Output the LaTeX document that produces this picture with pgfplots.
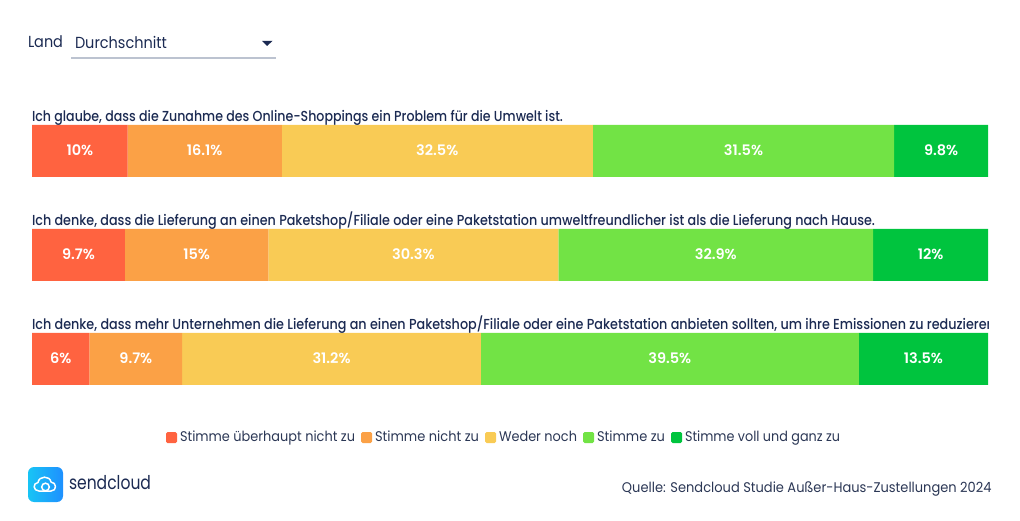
\documentclass[border=0pt]{standalone}
\usepackage{pgfplots}
\usepackage{graphicx}
\usepackage{fontspec}
\pgfplotsset{compat=1.18}
\setmainfont{Poppins}
\newfontfamily\medf{Poppins Medium}
\newfontfamily\semf{Poppins SemiBold}
\definecolor{cA}{HTML}{FF6340}
\definecolor{cB}{HTML}{FBA146}
\definecolor{cC}{HTML}{F9CB55}
\definecolor{cD}{HTML}{72E345}
\definecolor{cE}{HTML}{00C43E}
\definecolor{ink}{HTML}{1B2A52}
\definecolor{ink2}{HTML}{2B3755}
\definecolor{rule}{HTML}{BCC3D0}
\definecolor{logoA}{HTML}{18C4F5}
\definecolor{logoB}{HTML}{1E90FF}
\newcommand{\fit}[2]{\resizebox{#1pt}{\height}{#2}}
\pgfplotsset{
  lg/.style={fill=#1,draw=none,legend image code/.code={\fill[#1,rounded corners=1.5pt] (0pt,-6pt) rectangle (11pt,5pt);}},
  base/.style={
    at={(32pt,0pt)},anchor=south west,scale only axis,width=956pt,height=520pt,
    xmin=0,xmax=99.9,ymin=0,ymax=520,hide axis,clip=false},
  lab/.style={draw=none,mark=none,point meta=explicit symbolic,nodes near coords,
    every node near coord/.style={anchor=center,inner sep=0pt,text=white,font=\semf\fontsize{14.5}{16}\selectfont}}
}
\begin{document}
\begin{tikzpicture}[x=1pt,y=1pt]
\useasboundingbox (0,0) rectangle (1020,520);
\begin{axis}[base,xbar stacked,bar width=52pt,
  legend columns=-1,
  legend style={at={(134/956,83/520)},anchor=west,draw=none,fill=none,inner sep=0pt,outer sep=0pt,
    nodes={inner sep=0pt,outer sep=0pt,text=ink2},
    /tikz/every odd column/.style={column sep=3pt},
    /tikz/every even column/.style={column sep=6pt}}]
\addplot[lg=cA] coordinates {(10,369) (9.7,265) (6,161)};
\addplot[lg=cB] coordinates {(16.1,369) (15,265) (9.7,161)};
\addplot[lg=cC] coordinates {(32.5,369) (30.3,265) (31.2,161)};
\addplot[lg=cD] coordinates {(31.5,369) (32.9,265) (39.5,161)};
\addplot[lg=cE] coordinates {(9.8,369) (12,265) (13.5,161)};
\addlegendentry{\fontsize{14}{15}\selectfont\fit{175}{Stimme überhaupt nicht zu}}
\addlegendentry{\fontsize{14}{15}\selectfont\fit{104}{Stimme nicht zu}}
\addlegendentry{\fontsize{14}{15}\selectfont\fit{78}{Weder noch}}
\addlegendentry{\fontsize{14}{15}\selectfont\fit{68}{Stimme zu}}
\addlegendentry{\fontsize{14}{15}\selectfont\fit{155}{Stimme voll und ganz zu}}
\end{axis}
\begin{axis}[base]
\addplot[lab] coordinates {
  (5,369.8)[10\%] (18.05,369.8)[16.1\%] (42.35,369.8)[32.5\%] (74.35,369.8)[31.5\%] (95,369.8)[9.8\%]
 };
\addplot[lab] coordinates {
  (4.85,265.8)[9.7\%] (17.2,265.8)[15\%] (39.85,265.8)[30.3\%] (71.45,265.8)[32.9\%] (93.9,265.8)[12\%]
 };
\addplot[lab] coordinates {
  (3,161.8)[6\%] (10.85,161.8)[9.7\%] (31.3,161.8)[31.2\%] (66.65,161.8)[39.5\%] (93.15,161.8)[13.5\%]
 };
\end{axis}
\begin{scope}[x=1pt,y=-1pt,yshift=520pt,every node/.style={inner sep=0pt,outer sep=0pt}]
 % titles
 \node[anchor=base west,text=ink,font=\medf\fontsize{14.5}{16}\selectfont] at (32,121.5) {\fit{531}{Ich glaube, dass die Zunahme des Online-Shoppings ein Problem für die Umwelt ist.}};
 \node[anchor=base west,text=ink,font=\medf\fontsize{14.5}{16}\selectfont] at (32,225.5) {\fit{843}{Ich denke, dass die Lieferung an einen Paketshop/Filiale oder eine Paketstation umweltfreundlicher ist als die Lieferung nach Hause.}};
 \begin{scope}
 \clip (32,310) rectangle (988,333);
 \node[anchor=base west,text=ink,font=\medf\fontsize{14.5}{16}\selectfont] at (32,329.5) {\fit{966}{Ich denke, dass mehr Unternehmen die Lieferung an einen Paketshop/Filiale oder eine Paketstation anbieten sollten, um ihre Emissionen zu reduzieren.}};
 \end{scope}
 % selector
 \node[anchor=base west,text=ink,font=\fontsize{16}{18}\selectfont] at (28,47.5) {\fit{35}{Land}};
 \node[anchor=base west,text=ink,font=\fontsize{16}{18}\selectfont] at (75,48.5) {\fit{92}{Durchschnitt}};
 \draw[rule,line width=1.3pt] (71,58) -- (275.5,58);
 \fill[ink] (262,40.8) -- (272.5,40.8) -- (267.2,46) -- cycle;
 % source
 \node[anchor=base east,text=ink2,font=\fontsize{14}{16}\selectfont] at (991.5,492) {\fit{369.5}{Quelle: Sendcloud Studie Außer-Haus-Zustellungen 2024}};
 % logo
 \shade[rounded corners=6pt,left color=logoA,right color=logoB] (28,467) rectangle (63,502);
 \draw[white,line width=1.5pt,line join=round]
   (39,491) .. controls (33,491) and (32.5,483) .. (38,482.5)
   .. controls (39,475.5) and (50,475.5) .. (51,482)
   .. controls (57,482.5) and (57,491) .. (51,491) -- cycle;
 \draw[white,line width=1.5pt] (45.5,487) circle (3.8);
 \node[anchor=base west,text=ink,font=\fontsize{19}{21}\selectfont] at (69,489) {\fit{82}{sendcloud}};
\end{scope}
\end{tikzpicture}
\end{document}
